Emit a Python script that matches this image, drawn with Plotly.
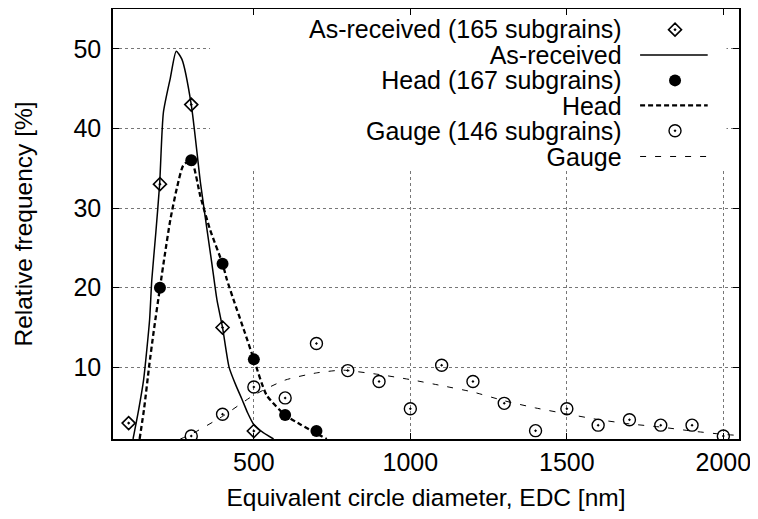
import plotly.graph_objects as go

# ---------------- data ----------------
asrec_x = [100, 200, 300, 400, 500]
asrec_y = [3.0, 33.0, 43.0, 15.0, 2.0]

head_x = [200, 300, 400, 500, 600, 700]
head_y = [20.0, 36.0, 23.0, 11.0, 4.0, 2.0]

gauge_x = [300, 400, 500, 600, 700, 800, 900, 1000, 1100, 1200, 1300, 1400,
           1500, 1600, 1700, 1800, 1900, 2000]
gauge_y = [1.37, 4.11, 7.53, 6.16, 13.0, 9.59, 8.22, 4.79, 10.27, 8.22, 5.48,
           2.05, 4.79, 2.74, 3.42, 2.74, 2.74, 1.37]

# fitted curves
asrec_fit_x = [114, 132, 148, 158, 167, 174, 187, 199, 211, 233, 252, 270, 300,
               330, 366, 382, 400, 421, 442, 462, 480, 500, 530, 563]
asrec_fit_y = [1.0, 4.7, 8.5, 12.2, 16.0, 21.0, 27.0, 33.0, 42.0, 46.3, 49.7, 48.7,
               43.0, 33.0, 23.0, 18.5, 15.0, 10.0, 7.8, 6.0, 4.3, 2.8, 1.8, 1.0]

head_fit_x = [135, 150, 165, 180, 200, 215, 233, 254, 275, 300, 329, 360, 400,
              414, 435, 470, 500, 541, 600, 650, 700, 733]
head_fit_y = [1.0, 5.0, 10.0, 14.5, 20.0, 24.0, 28.5, 32.5, 35.4, 36.0, 31.5, 27.3,
              23.0, 21.0, 18.5, 14.5, 11.0, 6.5, 4.0, 2.8, 1.7, 1.0]

gauge_fit_x = [265, 300, 400, 500, 600, 700, 780, 800, 900, 1000, 1100, 1200, 1300,
               1400, 1500, 1600, 1700, 1800, 1900, 2000, 2050]
gauge_fit_y = [1.0, 1.6, 3.85, 6.5, 8.4, 9.3, 9.65, 9.6, 9.1, 8.46, 7.7, 6.9, 5.8,
               4.9, 4.15, 3.44, 2.9, 2.5, 2.0, 1.58, 1.45]

legend_labels = ["As-received (165 subgrains)", "As-received",
                 "Head (167 subgrains)", "Head",
                 "Gauge (146 subgrains)", "Gauge"]

x_ticks = [500, 1000, 1500, 2000]
y_ticks = [10, 20, 30, 40, 50]

FONT = "Liberation Sans, Arial, Helvetica, sans-serif"

fig = go.Figure()

# curves
fig.add_trace(go.Scatter(x=asrec_fit_x, y=asrec_fit_y, mode="lines",
                         line=dict(color="black", width=1.5, shape="spline", smoothing=0.6),
                         showlegend=False))
fig.add_trace(go.Scatter(x=head_fit_x, y=head_fit_y, mode="lines",
                         line=dict(color="black", width=2.3, dash="5px,3px",
                                   shape="spline", smoothing=0.6),
                         showlegend=False))
fig.add_trace(go.Scatter(x=gauge_fit_x, y=gauge_fit_y, mode="lines",
                         line=dict(color="black", width=1, dash="6px,9px",
                                   shape="spline", smoothing=0.6),
                         showlegend=False))

# points
mk_diamond = dict(symbol="diamond-open-dot", size=10, color="black", line=dict(width=1.6, color="black"))
mk_dot = dict(symbol="circle", size=12, color="black", line=dict(width=0))
mk_cdot = dict(symbol="circle-open-dot", size=12, color="black", line=dict(width=1.4, color="black"))

fig.add_trace(go.Scatter(x=asrec_x, y=asrec_y, mode="markers", marker=mk_diamond,
                         showlegend=False, cliponaxis=True))
fig.add_trace(go.Scatter(x=head_x, y=head_y, mode="markers", marker=mk_dot,
                         showlegend=False, cliponaxis=True))
fig.add_trace(go.Scatter(x=gauge_x, y=gauge_y, mode="markers", marker=mk_cdot,
                         showlegend=False, cliponaxis=True))

# ---------------- manual gnuplot-style key ----------------
row_y = [0.952, 0.893, 0.834, 0.776, 0.717, 0.657]
text_x = 0.8147
mark_x = 0.8978
line_x = [0.842, 0.950]

key_styles = [
    ("m", mk_diamond, None),
    ("l", None, dict(color="black", width=1.5)),
    ("m", mk_dot, None),
    ("l", None, dict(color="black", width=2.3, dash="5px,3px")),
    ("m", mk_cdot, None),
    ("l", None, dict(color="black", width=1, dash="6px,9px")),
]
for yy, (kind, mk, ln) in zip(row_y, key_styles):
    if kind == "m":
        fig.add_trace(go.Scatter(x=[mark_x], y=[yy], mode="markers", marker=mk,
                                 xaxis="x2", yaxis="y2", showlegend=False,
                                 hoverinfo="skip"))
    else:
        fig.add_trace(go.Scatter(x=line_x, y=[yy, yy], mode="lines", line=ln,
                                 xaxis="x2", yaxis="y2", showlegend=False,
                                 hoverinfo="skip"))

# key texts as one right-aligned block (tight gnuplot line spacing)
key_text = "<br>".join('<span style="font-size:25px">%s</span>' % t for t in legend_labels)
fig.add_annotation(x=text_x, y=sum(row_y) / len(row_y), xref="paper", yref="paper",
                   text=key_text, showarrow=False, xanchor="right", yanchor="middle",
                   align="right", borderpad=0,
                   font=dict(family=FONT, size=19.7, color="black"))

# white key box hiding the grid
fig.add_shape(type="rect", xref="x", yref="y", x0=360, x1=2010, y0=34.8, y1=55,
              fillcolor="white", line=dict(width=0), layer="between")

axis_common = dict(
    showline=True, linecolor="black", linewidth=1.5, mirror="ticks",
    ticks="inside", ticklen=6, tickwidth=1, tickcolor="black",
    showgrid=True, gridcolor="#777777", griddash="dot", gridwidth=1,
    zeroline=False, automargin=False,
    tickfont=dict(family=FONT, size=25, color="black"),
)

# the page body adds an 8px offset, so the figure is drawn 8px smaller
fig.update_layout(
    width=750, height=511,
    margin=dict(l=105, r=19, t=1, b=80),
    paper_bgcolor="white", plot_bgcolor="white",
    font=dict(family=FONT, size=25, color="black"),
    xaxis=dict(range=[50, 2050], tickvals=x_ticks, **axis_common,
               title=dict(text="Equivalent circle diameter, EDC [nm]",
                          font=dict(family=FONT, size=24.5), standoff=14)),
    yaxis=dict(range=[1, 55], tickvals=y_ticks, ticklabelstandoff=5, **axis_common,
               title=dict(text="Relative frequency [%]",
                          font=dict(family=FONT, size=24.5), standoff=34)),
    xaxis2=dict(overlaying="x", range=[0, 1], visible=False, anchor="y2", fixedrange=True),
    yaxis2=dict(overlaying="y", range=[0, 1], visible=False, anchor="x2", fixedrange=True),
    showlegend=False,
)

fig.write_html("out.html")
